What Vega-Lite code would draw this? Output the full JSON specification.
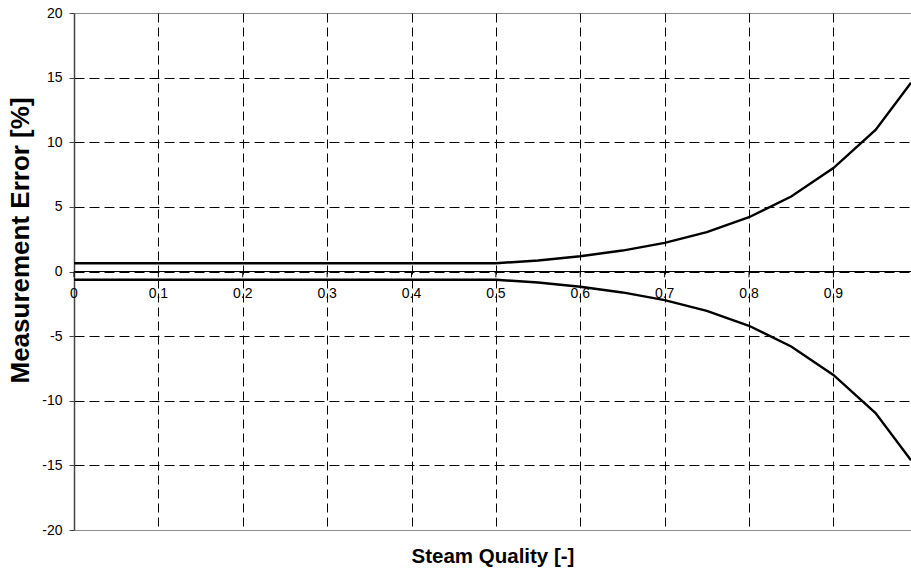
{
  "$schema": "https://vega.github.io/schema/vega-lite/v6.json",
  "width": 837,
  "height": 517,
  "autosize": {"type": "none"},
  "padding": {"left": 74, "top": 13, "right": 0, "bottom": 41},
  "background": "white",
  "config": {
    "font": "Liberation Sans",
    "view": {"stroke": "#8c8c8c", "strokeWidth": 1}
  },
  "datasets": {
    "error": [
      {"quality": 0.0, "error": 0.64, "bound": "upper"},
      {"quality": 0.05, "error": 0.64, "bound": "upper"},
      {"quality": 0.1, "error": 0.64, "bound": "upper"},
      {"quality": 0.15, "error": 0.64, "bound": "upper"},
      {"quality": 0.2, "error": 0.64, "bound": "upper"},
      {"quality": 0.25, "error": 0.64, "bound": "upper"},
      {"quality": 0.3, "error": 0.64, "bound": "upper"},
      {"quality": 0.35, "error": 0.64, "bound": "upper"},
      {"quality": 0.4, "error": 0.64, "bound": "upper"},
      {"quality": 0.45, "error": 0.64, "bound": "upper"},
      {"quality": 0.5, "error": 0.64, "bound": "upper"},
      {"quality": 0.55, "error": 0.85, "bound": "upper"},
      {"quality": 0.6, "error": 1.18, "bound": "upper"},
      {"quality": 0.65, "error": 1.62, "bound": "upper"},
      {"quality": 0.7, "error": 2.22, "bound": "upper"},
      {"quality": 0.75, "error": 3.04, "bound": "upper"},
      {"quality": 0.8, "error": 4.2, "bound": "upper"},
      {"quality": 0.85, "error": 5.8, "bound": "upper"},
      {"quality": 0.9, "error": 8.0, "bound": "upper"},
      {"quality": 0.95, "error": 10.95, "bound": "upper"},
      {"quality": 0.992, "error": 14.6, "bound": "upper"},
      {"quality": 0.0, "error": -0.64, "bound": "lower"},
      {"quality": 0.05, "error": -0.64, "bound": "lower"},
      {"quality": 0.1, "error": -0.64, "bound": "lower"},
      {"quality": 0.15, "error": -0.64, "bound": "lower"},
      {"quality": 0.2, "error": -0.64, "bound": "lower"},
      {"quality": 0.25, "error": -0.64, "bound": "lower"},
      {"quality": 0.3, "error": -0.64, "bound": "lower"},
      {"quality": 0.35, "error": -0.64, "bound": "lower"},
      {"quality": 0.4, "error": -0.64, "bound": "lower"},
      {"quality": 0.45, "error": -0.64, "bound": "lower"},
      {"quality": 0.5, "error": -0.64, "bound": "lower"},
      {"quality": 0.55, "error": -0.85, "bound": "lower"},
      {"quality": 0.6, "error": -1.18, "bound": "lower"},
      {"quality": 0.65, "error": -1.62, "bound": "lower"},
      {"quality": 0.7, "error": -2.22, "bound": "lower"},
      {"quality": 0.75, "error": -3.04, "bound": "lower"},
      {"quality": 0.8, "error": -4.2, "bound": "lower"},
      {"quality": 0.85, "error": -5.8, "bound": "lower"},
      {"quality": 0.9, "error": -8.0, "bound": "lower"},
      {"quality": 0.95, "error": -10.95, "bound": "lower"},
      {"quality": 0.992, "error": -14.6, "bound": "lower"}
    ],
    "qualityTicks": [
      {"quality": 0.0, "label": "0"},
      {"quality": 0.1, "label": "0.1"},
      {"quality": 0.2, "label": "0.2"},
      {"quality": 0.3, "label": "0.3"},
      {"quality": 0.4, "label": "0.4"},
      {"quality": 0.5, "label": "0.5"},
      {"quality": 0.6, "label": "0.6"},
      {"quality": 0.7, "label": "0.7"},
      {"quality": 0.8, "label": "0.8"},
      {"quality": 0.9, "label": "0.9"}
    ]
  },
  "layer": [
    {
      "data": {"name": "error"},
      "mark": {"type": "line", "color": "black", "strokeWidth": 2.4, "clip": true},
      "encoding": {
        "x": {
          "field": "quality",
          "type": "quantitative",
          "scale": {"domain": [0, 0.992], "nice": false, "zero": false},
          "axis": {
            "title": "Steam Quality [-]",
            "titleFontSize": 20.5,
            "titleFontWeight": "bold",
            "titleColor": "black",
            "titlePadding": 16,
            "values": [0.1, 0.2, 0.3, 0.4, 0.5, 0.6, 0.7, 0.8, 0.9],
            "labels": false,
            "ticks": false,
            "domain": false,
            "grid": true,
            "gridColor": "black",
            "gridDash": [9, 5],
            "gridWidth": 1,
            "gridOpacity": 1
          }
        },
        "y": {
          "field": "error",
          "type": "quantitative",
          "scale": {"domain": [-20, 20], "nice": false},
          "axis": {
            "title": "Measurement Error [%]",
            "titleFontSize": 26,
            "titleFontWeight": "bold",
            "titleColor": "black",
            "titlePadding": 8,
            "titleY": 227,
            "values": [-20, -15, -10, -5, 0, 5, 10, 15, 20],
            "labelExpr": "'' + datum.value",
            "labelFontSize": 14,
            "labelColor": "black",
            "labelPadding": 7,
            "tickSize": 5,
            "tickColor": "#444",
            "domain": true,
            "domainColor": "#444",
            "domainWidth": 1.5,
            "grid": true,
            "gridColor": {"condition": {"test": "abs(datum.value) == 20", "value": "transparent"}, "value": "black"},
            "gridDash": [10, 5],
            "gridWidth": 1,
            "gridOpacity": 1
          }
        },
        "detail": {"field": "bound", "type": "nominal"}
      }
    },
    {
      "data": {"values": [{"error": 0}]},
      "mark": {"type": "rule", "color": "black", "strokeWidth": 1},
      "encoding": {
        "y": {"field": "error", "type": "quantitative"}
      }
    },
    {
      "data": {"name": "qualityTicks"},
      "mark": {"type": "rule", "color": "black", "strokeWidth": 1},
      "encoding": {
        "x": {"field": "quality", "type": "quantitative"},
        "y": {"datum": 0},
        "y2": {"datum": -0.45}
      }
    },
    {
      "data": {"name": "qualityTicks"},
      "mark": {"type": "text", "fontSize": 14, "color": "black", "align": "center", "baseline": "alphabetic", "dy": 26},
      "encoding": {
        "x": {"field": "quality", "type": "quantitative"},
        "y": {"datum": 0},
        "text": {"field": "label", "type": "nominal"}
      }
    }
  ]
}
